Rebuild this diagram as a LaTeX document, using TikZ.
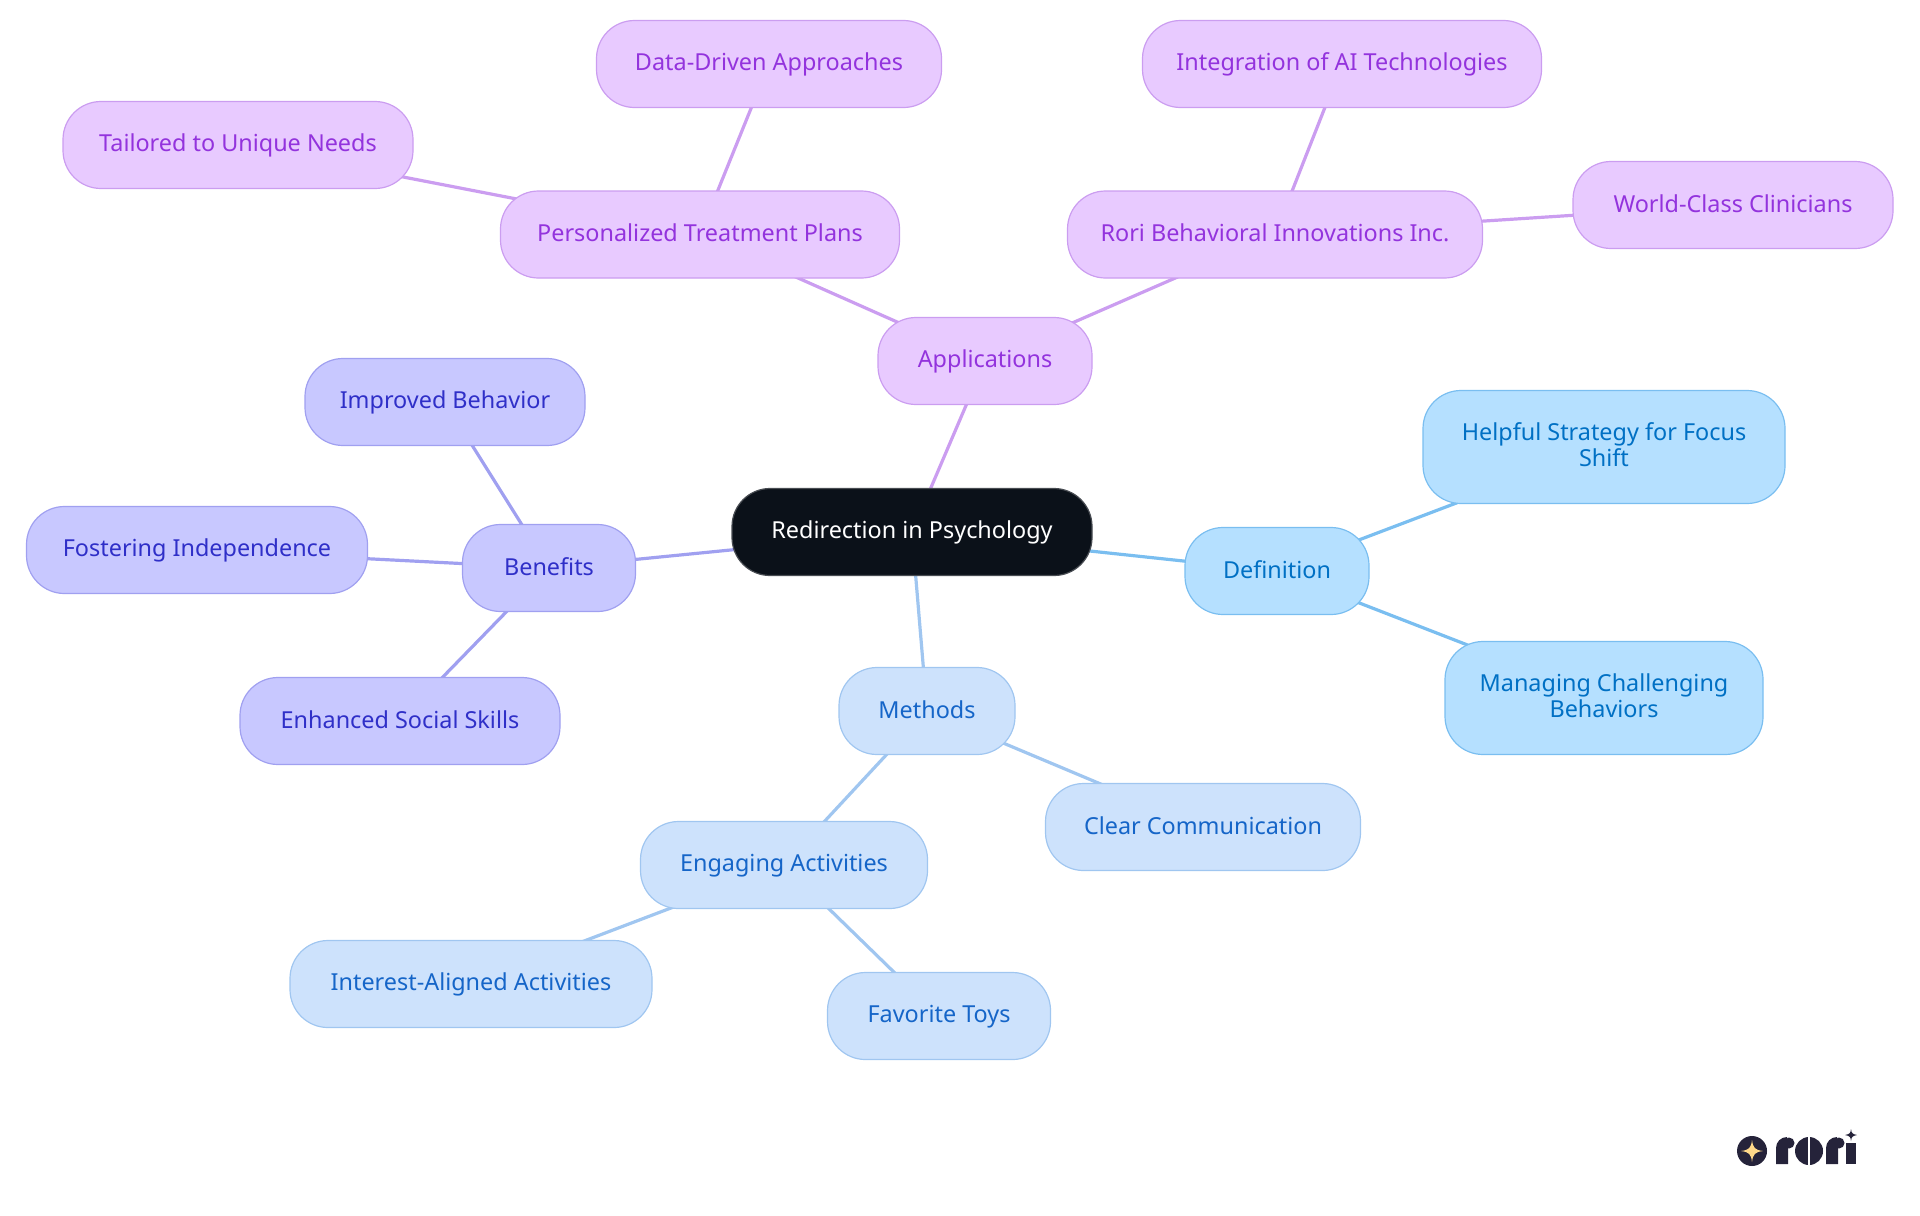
\documentclass[tikz,border=0pt]{standalone}
\usepackage{fontspec}
\setmainfont{Noto Sans}
\usetikzlibrary{backgrounds}
\newcommand{\labelstrut}{\rule[-2.5pt]{0pt}{12pt}}
\tikzset{
  mapnode/.style={draw,line width=0.6pt,rounded corners=19pt,minimum height=43.5pt,inner sep=0pt,align=center,font=\fontsize{11.7}{13}\selectfont,execute at begin node=\labelstrut,execute at end node=\labelstrut},
  twoline/.style={minimum height=56.5pt},
  rootnode/.style={mapnode,draw=rootc!75!white,fill=rootc,text=white},
  appnode/.style={mapnode,draw=appl,fill=appf,text=appt},
  defnode/.style={mapnode,draw=defl,fill=deff,text=deft},
  methnode/.style={mapnode,draw=methl,fill=methf,text=metht},
  bennode/.style={mapnode,draw=benl,fill=benf,text=bent},
  link/.style={line width=1.6pt}
}
\begin{document}
\begin{tikzpicture}[x=0.5pt,y=-0.5pt]
\definecolor{rootc}{HTML}{0B1119}
\definecolor{appf}{HTML}{E8CAFF}
\definecolor{appl}{HTML}{CB9DF0}
\definecolor{appt}{HTML}{9333DD}
\definecolor{deff}{HTML}{B5E0FF}
\definecolor{defl}{HTML}{7ABEF0}
\definecolor{deft}{HTML}{0070C4}
\definecolor{methf}{HTML}{CDE2FC}
\definecolor{methl}{HTML}{A0C6F0}
\definecolor{metht}{HTML}{1565C8}
\definecolor{benf}{HTML}{C8C8FF}
\definecolor{benl}{HTML}{A0A0F0}
\definecolor{bent}{HTML}{2F2FC8}
\definecolor{logod}{HTML}{25233A}
\definecolor{logoy}{HTML}{FFD98A}
\useasboundingbox (0,0) rectangle (1920,1215);

\node[rootnode,minimum width=180pt] (root) at (912,532) {Redirection in Psychology};

\node[appnode,minimum width=107pt] (applications) at (985,361) {Applications};
\node[appnode,minimum width=199.5pt] (personalized) at (700,234.5) {Personalized Treatment Plans};
\node[appnode,minimum width=175pt] (tailored) at (238,145) {Tailored to Unique Needs};
\node[appnode,minimum width=172.5pt] (datadriven) at (769,64) {Data-Driven Approaches};
\node[appnode,minimum width=207.5pt] (rorib) at (1275,234.5) {Rori Behavioral Innovations Inc.};
\node[appnode,minimum width=199.5pt] (integration) at (1342,64) {Integration of AI Technologies};
\node[appnode,minimum width=160pt] (clinicians) at (1733,205) {World-Class Clinicians};

\node[defnode,minimum width=92pt] (definition) at (1277,571) {Definition};
\node[defnode,twoline,minimum width=181pt] (helpful) at (1604,447) {Helpful Strategy for Focus\\Shift};
\node[defnode,twoline,minimum width=159pt] (managing) at (1604,698) {Managing Challenging\\Behaviors};

\node[methnode,minimum width=88pt] (methods) at (927,711) {Methods};
\node[methnode,minimum width=157.5pt] (clear) at (1203,827) {Clear Communication};
\node[methnode,minimum width=143.5pt] (engaging) at (784,865) {Engaging Activities};
\node[methnode,minimum width=181pt] (interest) at (471,984) {Interest-Aligned Activities};
\node[methnode,minimum width=111.5pt] (toys) at (939,1016) {Favorite Toys};

\node[bennode,minimum width=86.5pt] (benefits) at (549,568) {Benefits};
\node[bennode,minimum width=140pt] (improved) at (445,402) {Improved Behavior};
\node[bennode,minimum width=170.5pt] (fostering) at (197,550) {Fostering Independence};
\node[bennode,minimum width=160pt] (enhanced) at (400,721) {Enhanced Social Skills};

\begin{scope}[on background layer]
\draw[link,appl] (root.center) -- (applications.center);
\draw[link,appl] (applications.center) -- (personalized.center);
\draw[link,appl] (applications.center) -- (rorib.center);
\draw[link,appl] (personalized.center) -- (tailored.center);
\draw[link,appl] (personalized.center) -- (datadriven.center);
\draw[link,appl] (rorib.center) -- (integration.center);
\draw[link,appl] (rorib.center) -- (clinicians.center);
\draw[link,defl] (root.center) -- (definition.center);
\draw[link,defl] (definition.center) -- (helpful.center);
\draw[link,defl] (definition.center) -- (managing.center);
\draw[link,methl] (root.center) -- (methods.center);
\draw[link,methl] (methods.center) -- (clear.center);
\draw[link,methl] (methods.center) -- (engaging.center);
\draw[link,methl] (engaging.center) -- (interest.center);
\draw[link,methl] (engaging.center) -- (toys.center);
\draw[link,benl] (root.center) -- (benefits.center);
\draw[link,benl] (benefits.center) -- (improved.center);
\draw[link,benl] (benefits.center) -- (fostering.center);
\draw[link,benl] (benefits.center) -- (enhanced.center);
\end{scope}

% logo
\fill[logod] (1752,1151) circle (15);
\fill[logoy] (1752,1140) .. controls (1753,1148) and (1755,1150) .. (1763,1151) .. controls (1755,1152) and (1753,1154) .. (1752,1162) .. controls (1751,1154) and (1749,1152) .. (1741,1151) .. controls (1749,1150) and (1751,1148) .. (1752,1140) -- cycle;
\fill[logod] (1776,1164) -- (1776,1148) arc (180:270:11) -- (1788,1148) -- (1788,1164) -- cycle;
\fill[logod] (1789,1143) circle (5.5);
\fill[logod] (1809,1151) circle (14);
\fill[white] (1807.5,1137) rectangle (1809.5,1165);
\fill[logod] (1826,1164) -- (1826,1148) arc (180:270:11) -- (1838,1148) -- (1838,1164) -- cycle;
\fill[logod] (1839,1143) circle (5.5);
\fill[logod] (1846,1143) -- (1856,1143) -- (1856,1164) -- (1846,1164) -- cycle;
\fill[logod] (1851,1129) .. controls (1851.5,1133) and (1852,1134) .. (1857,1135) .. controls (1852,1136) and (1851.5,1137) .. (1851,1141) .. controls (1850.5,1137) and (1850,1136) .. (1845,1135) .. controls (1850,1134) and (1850.5,1133) .. (1851,1129) -- cycle;
\end{tikzpicture}
\end{document}
